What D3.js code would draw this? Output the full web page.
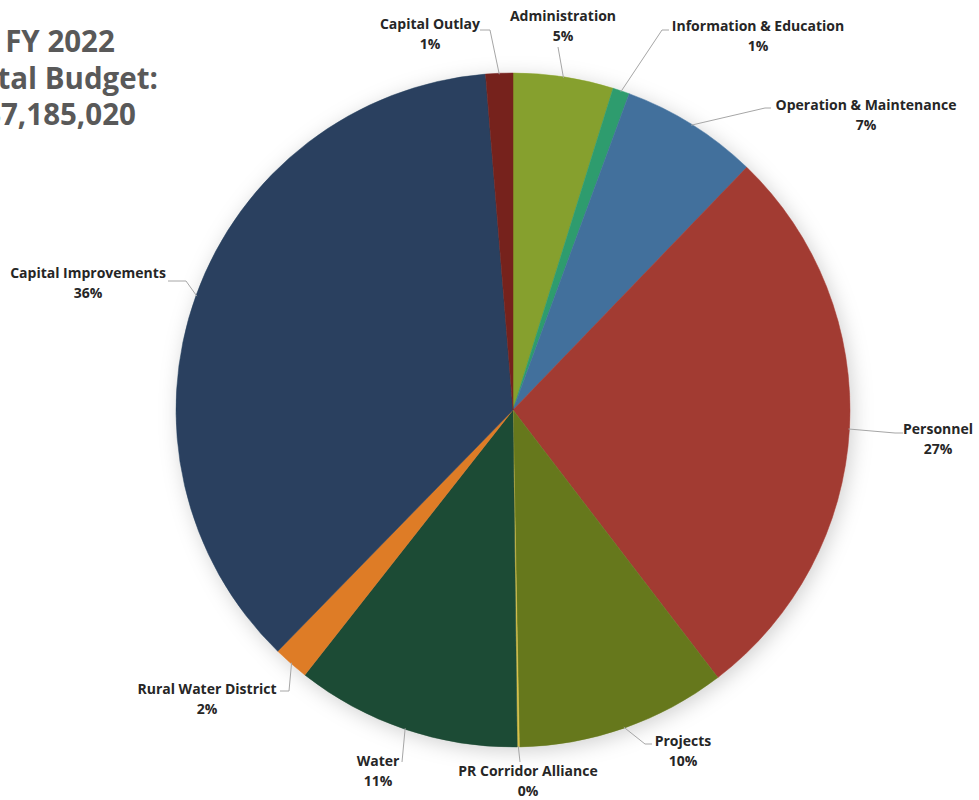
<!DOCTYPE html>
<html>
<head>
<meta charset="utf-8">
<script src="https://cdn.jsdelivr.net/npm/d3@7/dist/d3.min.js"></script>
<style>
  html, body { margin: 0; padding: 0; background: #fff; }
  svg { display: block; }
</style>
</head>
<body>
<svg id="chart" width="979" height="800"></svg>
<script>
// FY 2022 budget shares by category (percent of total), clockwise from 12 o'clock
const categories = [
  "Administration", "Information & Education", "Operation & Maintenance",
  "Personnel", "Projects", "PR Corridor Alliance", "Water",
  "Rural Water District", "Capital Improvements", "Capital Outlay"
];
const shares = [4.8, 0.8, 6.6, 27.4, 10.1, 0.1, 10.8, 1.7, 36.4, 1.3];
const sliceColors = [
  "#86a02d", "#2f9c6e", "#43709c", "#a23b33", "#66781f",
  "#d8c24a", "#1f4b35", "#de7b27", "#29415e", "#76221f"
];
const titleLines = ["FY 2022", "Total Budget:", "$7,185,020"];

// label placement: text centre, first baseline, and leader-line path points after the slice edge
const labelLayout = {
  "Capital Outlay":          { x: 430, y: 29,  path: [[490, 30], [480, 30]] },
  "Administration":          { x: 563, y: 21,  path: [[558, 47]] },
  "Information & Education": { x: 758, y: 31,  path: [[662, 30], [669, 30]] },
  "Operation & Maintenance": { x: 866, y: 110, path: [[765, 108], [771, 108]] },
  "Personnel":               { x: 938, y: 434, path: [[895, 433], [903, 433]] },
  "Capital Improvements":    { x: 88,  y: 278, path: [[186, 281], [168, 281]] },
  "Rural Water District":    { x: 207, y: 694, path: [[289, 691], [280, 691]] },
  "Water":                   { x: 378, y: 766, path: [[402, 762]] },
  "PR Corridor Alliance":    { x: 528, y: 776, path: [[520, 762]] },
  "Projects":                { x: 683, y: 746, path: [[645, 744], [652, 744]] }
};

const cx = 513, cy = 410, radius = 337;
const svg = d3.select("#chart");

const defs = svg.append("defs");
const shadow = defs.append("filter").attr("id", "pieShadow")
  .attr("x", "-20%").attr("y", "-20%").attr("width", "140%").attr("height", "140%");
shadow.append("feDropShadow")
  .attr("dx", 3).attr("dy", 4).attr("stdDeviation", 10)
  .attr("flood-color", "#000").attr("flood-opacity", 0.18);

const data = categories.map((c, i) => ({ name: c, value: shares[i], color: sliceColors[i] }));
const total = d3.sum(data, d => d.value);

const pie = d3.pie().value(d => d.value).sort(null);
const arcs = pie(data);
const arc = d3.arc().innerRadius(0).outerRadius(radius);
const edge = d3.arc().innerRadius(radius - 1).outerRadius(radius - 1);

const g = svg.append("g").attr("transform", `translate(${cx},${cy})`);
g.append("g").attr("filter", "url(#pieShadow)")
  .selectAll("path").data(arcs).join("path")
  .attr("d", arc)
  .attr("fill", d => d.data.color)
  .attr("stroke", d => d.data.color)
  .attr("stroke-width", 0.5);

// leader lines from the slice edge to the label
const line = d3.line();
svg.append("g").selectAll("path").data(arcs).join("path")
  .attr("d", d => {
    const [ex, ey] = edge.centroid(d);
    const pts = [[cx + ex, cy + ey]].concat(labelLayout[d.data.name].path);
    return line(pts);
  })
  .attr("fill", "none")
  .attr("stroke", "#a6a6a6")
  .attr("stroke-width", 1);

const pct = d3.format(".0%");
const labels = svg.append("g")
  .attr("font-family", "'Open Sans', sans-serif")
  .attr("font-weight", 700)
  .attr("font-size", 14)
  .attr("fill", "#262626")
  .attr("text-anchor", "middle");
arcs.forEach(d => {
  const L = labelLayout[d.data.name];
  const t = labels.append("text").attr("x", L.x).attr("y", L.y);
  t.append("tspan").attr("x", L.x).text(d.data.name);
  t.append("tspan").attr("x", L.x).attr("dy", 20).text(pct(d.data.value / total));
});

// title block, partly running past the left edge
svg.append("g")
  .attr("font-family", "'Open Sans', sans-serif")
  .attr("font-weight", 700)
  .attr("font-size", 29.5)
  .attr("fill", "#595959")
  .attr("text-anchor", "middle")
  .selectAll("text").data(titleLines).join("text")
  .attr("x", 60)
  .attr("y", (d, i) => 52 + i * 36.5)
  .text(d => d);
</script>
</body>
</html>
